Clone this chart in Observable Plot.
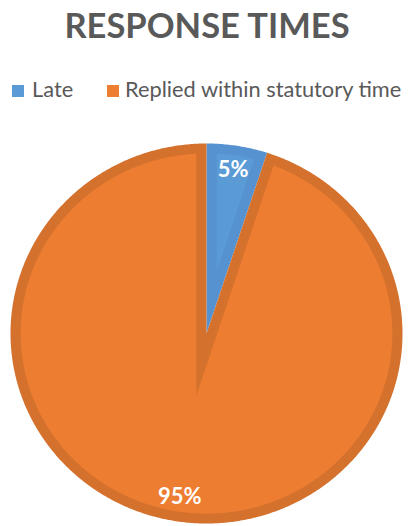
<!DOCTYPE html>
<html>
<head>
<meta charset="utf-8">
<script src="https://cdn.jsdelivr.net/npm/d3@7"></script>
<script src="https://cdn.jsdelivr.net/npm/@observablehq/plot@0.6"></script>
<style>
  html, body { margin: 0; padding: 0; background: #fff; }
  #wrap { position: relative; width: 412px; height: 526px; overflow: hidden; font-family: Lato, "Open Sans", sans-serif; color: #595959; }
  #title { position: absolute; left: 0; width: 414px; top: 8px; text-align: center; font-size: 34.5px; line-height: 34px; font-weight: 700; white-space: nowrap; }
  .sw { position: absolute; width: 12px; height: 12px; top: 85px; }
  .lt { position: absolute; top: 78px; font-size: 21.8px; line-height: 22px; white-space: nowrap; }
  #chart { position: absolute; left: 0; top: 110px; }
</style>
</head>
<body>
<div id="wrap">
  <div id="title">RESPONSE TIMES</div>
  <div id="legend"></div>
  <div id="chart"></div>
</div>
<script>
const categories = ["Late", "Replied within statutory time"];
const values = [5, 95];
const labels = ["5%", "95%"];
const fills = ["#5B9BD5", "#ED7D31"];
const borders = ["#5592CF", "#D4712D"];
const title = "RESPONSE TIMES";

document.getElementById("title").textContent = title;

// legend
const legend = document.getElementById("legend");
const swLeft = [12, 107];
const txLeft = [32, 125];
categories.forEach((c, i) => {
  const s = document.createElement("div");
  s.className = "sw"; s.style.left = swLeft[i] + "px"; s.style.background = fills[i];
  legend.appendChild(s);
  const t = document.createElement("div");
  t.className = "lt"; t.style.left = txLeft[i] + "px"; t.textContent = c;
  legend.appendChild(t);
});

// geometry in unit-circle space
const W = 412, H = 416, cxPx = 206, cyPx = 223, rxPx = 196, ryPx = 190;
const total = d3.sum(values);
const inset = 10 / 193;
const slices = [];
let acc = 0;
values.forEach((v, i) => {
  const a0 = acc / total * 2 * Math.PI;
  acc += v;
  const a1 = acc / total * 2 * Math.PI;
  slices.push({i, a0, a1});
});
const pt = (r, a) => ({x: r * Math.sin(a), y: r * Math.cos(a)});
function arcPts(r, a0, a1) {
  const n = Math.max(2, Math.ceil((a1 - a0) / (Math.PI / 360)));
  return d3.range(n + 1).map(k => pt(r, a0 + (a1 - a0) * k / n));
}
const outer = slices.map(s => [pt(0, 0), ...arcPts(1, s.a0, s.a1), pt(0, 0)]);
const inner = slices.map(s => {
  const th = s.a1 - s.a0, mid = (s.a0 + s.a1) / 2;
  const rr = 1 - inset, dl = Math.asin(inset / rr);
  const v = pt(inset / Math.sin(th / 2), mid);
  return [v, ...arcPts(rr, s.a0 + dl, s.a1 - dl), v];
});
const labelPts = slices.map(s => ({...pt(0.87, (s.a0 + s.a1) / 2), label: labels[s.i]}));

const marks = [];
slices.forEach((s, i) => {
  marks.push(Plot.line(outer[i], {x: "x", y: "y", fill: borders[i], stroke: "none", curve: "linear"}));
  marks.push(Plot.line(inner[i], {x: "x", y: "y", fill: fills[i], stroke: "none", curve: "linear"}));
});
marks.push(Plot.text(labelPts, {x: "x", y: "y", text: "label", fill: "white", fontSize: 22, fontWeight: "bold", fontFamily: "Lato, 'Open Sans', sans-serif"}));

const plot = Plot.plot({
  width: W, height: H,
  marginTop: 0, marginRight: 0, marginBottom: 0, marginLeft: 0,
  x: {domain: [-cxPx / rxPx, (W - cxPx) / rxPx], axis: null},
  y: {domain: [-(H - cyPx) / ryPx, cyPx / ryPx], axis: null},
  style: {background: "white", overflow: "visible"},
  marks
});
document.getElementById("chart").appendChild(plot);
</script>
</body>
</html>
